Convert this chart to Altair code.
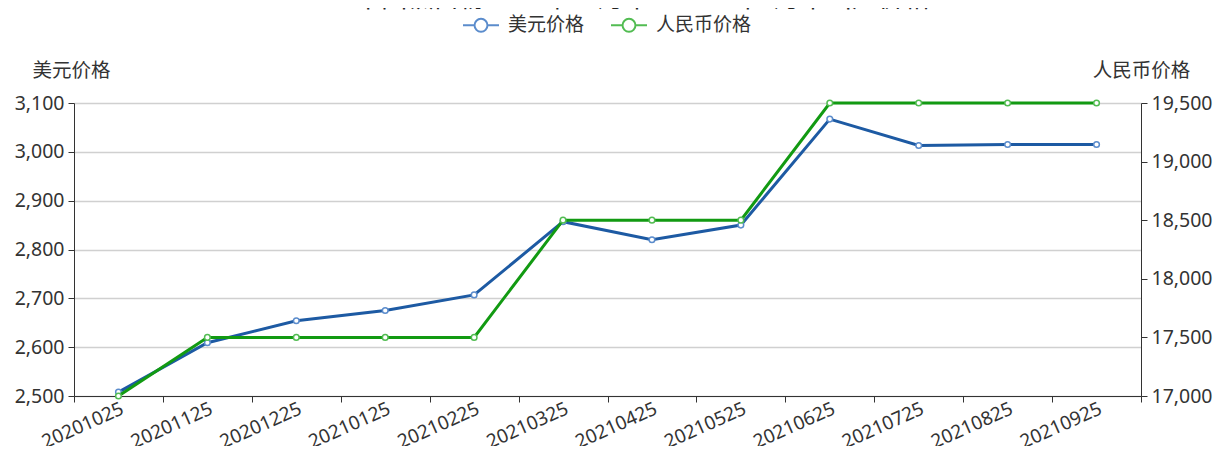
import altair as alt
import pandas as pd

dates = ["20201025", "20201125", "20201225", "20210125", "20210225", "20210325",
         "20210425", "20210525", "20210625", "20210725", "20210825", "20210925"]
usd = [2508, 2609, 2654, 2675, 2707, 2857, 2820, 2850, 3067, 3013, 3015, 3015]
rmb = [17000, 17500, 17500, 17500, 17500, 18500, 18500, 18500, 19500, 19500, 19500, 19500]
series_names = ["美元价格", "人民币价格"]
usd_ticks = [2500, 2600, 2700, 2800, 2900, 3000, 3100]
rmb_ticks = [17000, 17500, 18000, 18500, 19000, 19500]
title_text = "1.2-2 中国钛白粉2020年10月末至2021年9月末出厂价格"

df_usd = pd.DataFrame({"date": dates, "value": usd, "series": series_names[0]})
df_rmb = pd.DataFrame({"date": dates, "value": rmb, "series": series_names[1]})

line_colors = ["#1d5aa3", "#129a12"]
marker_colors = ["#5b8ccc", "#52bc52"]

W, H = 1067, 293

xenc = alt.X("date:O", sort=dates,
             scale=alt.Scale(type="band", paddingInner=0, paddingOuter=0),
             axis=alt.Axis(title=None, labelAngle=-24, tickBand="extent",
                           labelFontSize=19, labelPadding=-3, labelFont="Noto Sans"))

legend_path = ("M-1,0H-0.36M0.36,0H1M0.36,0A0.36,0.36,0,1,1,-0.36,0"
               "A0.36,0.36,0,1,1,0.36,0Z")

stroke_enc = alt.Stroke("series:N", sort=series_names,
                        scale=alt.Scale(domain=series_names, range=marker_colors),
                        legend=alt.Legend(title=None, orient="none", direction="horizontal",
                                          legendX=388, legendY=-97,
                                          symbolType=legend_path, symbolSize=1296,
                                          symbolStrokeWidth=2, symbolFillColor="white",
                                          labelFont="Noto Sans CJK SC", labelFontSize=19,
                                          labelColor="#333", labelOffset=8,
                                          columnPadding=22))

y_usd = alt.Y("value:Q", scale=alt.Scale(domain=[2500, 3100], nice=False, zero=False),
              axis=alt.Axis(title="美元价格", orient="left", values=usd_ticks, format=",.0f",
                            titleAngle=0, titleX=-3, titleY=-27, titleAlign="center",
                            titleBaseline="alphabetic", titleFont="Noto Sans CJK SC",
                            titleFontSize=19.5, titleFontWeight="normal", titleColor="#333",
                            labelFontSize=19.5, labelFont="Noto Sans", labelPadding=4))
y_rmb = alt.Y("value:Q", scale=alt.Scale(domain=[17000, 19500], nice=False, zero=False),
              axis=alt.Axis(title="人民币价格", orient="right", values=rmb_ticks, format=",.0f",
                            titleAngle=0, titleX=0, titleY=-27, titleAlign="center",
                            titleBaseline="alphabetic", titleFont="Noto Sans CJK SC",
                            titleFontSize=19.5, titleFontWeight="normal", titleColor="#333",
                            labelFontSize=19.5, labelFont="Noto Sans", labelPadding=4))

line_usd = alt.Chart(df_usd).mark_line(strokeWidth=3, color=line_colors[0]).encode(x=xenc, y=y_usd)
pts_usd = alt.Chart(df_usd).mark_point(shape="circle", size=32, filled=False, fill="white",
                                       fillOpacity=1, strokeWidth=1.5, opacity=1).encode(
    x=xenc, y=y_usd, stroke=stroke_enc)
line_rmb = alt.Chart(df_rmb).mark_line(strokeWidth=3, color=line_colors[1]).encode(x=xenc, y=y_rmb)
pts_rmb = alt.Chart(df_rmb).mark_point(shape="circle", size=32, filled=False, fill="white",
                                       fillOpacity=1, strokeWidth=1.5, opacity=1).encode(
    x=xenc, y=y_rmb, stroke=stroke_enc)

title_df = pd.DataFrame({"t": [title_text]})
title_mark = alt.Chart(title_df).mark_text(fontSize=26, font="Noto Sans CJK SC", color="#222",
                                           align="center", baseline="alphabetic").encode(
    text="t:N", x=alt.value(536), y=alt.value(-96))

left = alt.layer(line_usd, pts_usd, title_mark)
right = alt.layer(line_rmb, pts_rmb)

chart = alt.layer(left, right).resolve_scale(y="independent").properties(
    width=W, height=H,
    autosize=alt.AutoSizeParams(type="none"),
    padding={"left": 66, "top": 95, "right": 72, "bottom": 50},
).configure_view(stroke=None).configure_axis(
    domainColor="#333", tickColor="#333", labelColor="#333", tickSize=6,
    gridColor="#d0d0d0", gridWidth=1.5,
).configure_axisX(grid=False).configure_axisY(grid=True)

chart.save("out.html", embed_options={"renderer": "svg", "actions": False})
